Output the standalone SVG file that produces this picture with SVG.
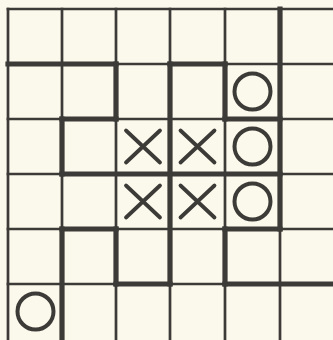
<svg xmlns="http://www.w3.org/2000/svg" width="333" height="340" viewBox="0 0 333 340">
<style>
.bg{fill:#fbf8ec}
.thin{stroke:#3d3b37;stroke-width:2.7;fill:none;stroke-linecap:square}
.thick{stroke:#3d3b37;stroke-width:5.2;fill:none;stroke-linecap:square}
.x{stroke:#3d3b37;stroke-width:3.8;fill:none;stroke-linecap:round}
.o{stroke:#3d3b37;stroke-width:4;fill:none}
</style>
<defs>
<g id="xmark"><path class="x" d="M-17,-16 L17,16 M17,-16 L-17,16"/></g>
<g id="omark"><circle class="o" r="18"/></g>
</defs>
<rect class="bg" x="0" y="0" width="333" height="340"/>
<g id="grid">
<path class="thin" d="M8,9 H333 M8,64 H333 M8,119 H333 M8,174 H333 M8,229 H333 M8,284 H333"/>
<path class="thin" d="M8,9 V340 M62,9 V340 M116,9 V340 M170,9 V340 M225,9 V340 M280,9 V340"/>
</g>
<g id="walls">
<path class="thick" d="M8,64 H116 M170,64 H225 M62,119 H116 M225,119 H280 M62,174 H280 M62,229 H116 M225,229 H280 M116,284 H170 M225,284 H335"/>
<path class="thick" d="M62,119 V174 M62,229 V342 M116,64 V119 M116,229 V284 M170,64 V284 M225,64 V119 M225,229 V284 M280,9 V229"/>
</g>
<g id="marks">
<use href="#omark" x="252.5" y="91.5"/>
<use href="#xmark" x="143" y="146.5"/>
<use href="#xmark" x="197.5" y="146.5"/>
<use href="#omark" x="252.5" y="146.5"/>
<use href="#xmark" x="143" y="201.5"/>
<use href="#xmark" x="197.5" y="201.5"/>
<use href="#omark" x="252.5" y="201.5"/>
<use href="#omark" x="35.5" y="311.5"/>
</g>
</svg>
